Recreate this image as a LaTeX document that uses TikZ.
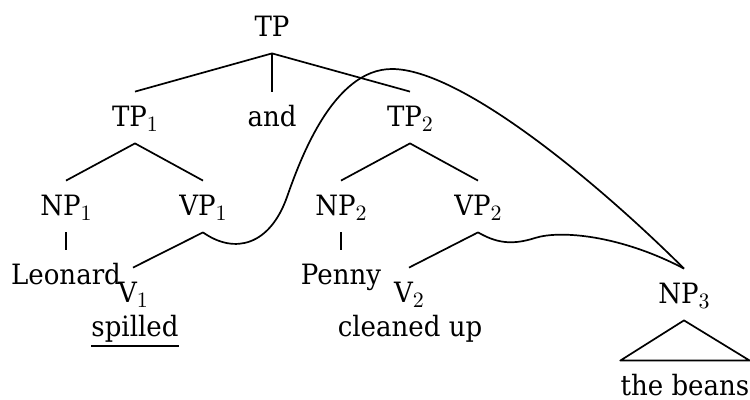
\documentclass[tikz,border=0pt]{standalone}
\usepackage{fontspec}
\setmainfont{DejaVu Serif}[FakeStretch=0.93]
\newcommand{\subn}[1]{\raisebox{-2.2pt}{\fontsize{11pt}{13pt}\selectfont$#1$}}
\tikzset{
  lab/.style={anchor=base, font=\fontsize{14pt}{16pt}\selectfont,
    text height=12.5pt, text depth=3pt, inner ysep=5pt, inner xsep=0pt},
  branch/.style={line width=0.85pt, line join=round},
  move/.style={line width=0.85pt},
  uline/.style={line width=0.9pt},
}
\begin{document}
\begin{tikzpicture}[x=0.5pt, y=-0.5pt]
\useasboundingbox (0,0) rectangle (750,400);
% nodes
\node[lab] (TP)  at (272,37)  {TP};
\node[lab] (TP1) at (135,127) {TP\subn{1}};
\node[lab] (and) at (272,127) {and};
\node[lab] (TP2) at (410,127) {TP\subn{2}};
\node[lab] (NP1) at (66,216)  {NP\subn{1}};
\node[lab] (VP1) at (203,216) {VP\subn{1}};
\node[lab] (NP2) at (341,216) {NP\subn{2}};
\node[lab] (VP2) at (478,216) {VP\subn{2}};
\node[lab] (Leo) at (66,285)  {Leonard};
\node[lab] (Pen) at (341,285) {Penny};
\node[lab] (V1)  at (133,303) {V\subn{1}};
\node[lab] (V2)  at (409,303) {V\subn{2}};
\node[lab] (spl) at (135,337) {spilled};
\node[lab] (cln) at (410,337) {cleaned up};
\node[lab] (NP3) at (684,304) {NP\subn{3}};
\node[lab] (bns) at (685,396) {the beans};
% underline of "spilled"
\draw[uline] ([yshift=-4.5pt]spl.base west) -- ([yshift=-4.5pt]spl.base east);
% branches
\draw[branch] (TP1.north) -- (TP.south) -- (TP2.north);
\draw[branch] (TP.south) -- (and.north);
\draw[branch] (NP1.north) -- (TP1.south) -- (VP1.north);
\draw[branch] (NP2.north) -- (TP2.south) -- (VP2.north);
\draw[branch] (NP1.south) -- (Leo.north);
\draw[branch] (NP2.south) -- (Pen.north);
\draw[branch] (VP1.south) -- (V1.north);
\draw[branch] (VP2.south) -- (V2.north);
\draw[branch] (NP3.south) -- (bns.north west) -- (bns.north east) -- cycle;
% movement curves
\draw[move] (VP1.south) .. controls (235,255) and (270,245) .. (287,197)
  .. controls (300,160) and (333,69) .. (392,69)
  .. controls (460,69) and (595,180) .. (NP3.north);
\draw[move] (VP2.south) .. controls (495,242) and (510,246) .. (535,238)
  .. controls (560,230) and (620,235) .. (NP3.north);
\end{tikzpicture}
\end{document}
